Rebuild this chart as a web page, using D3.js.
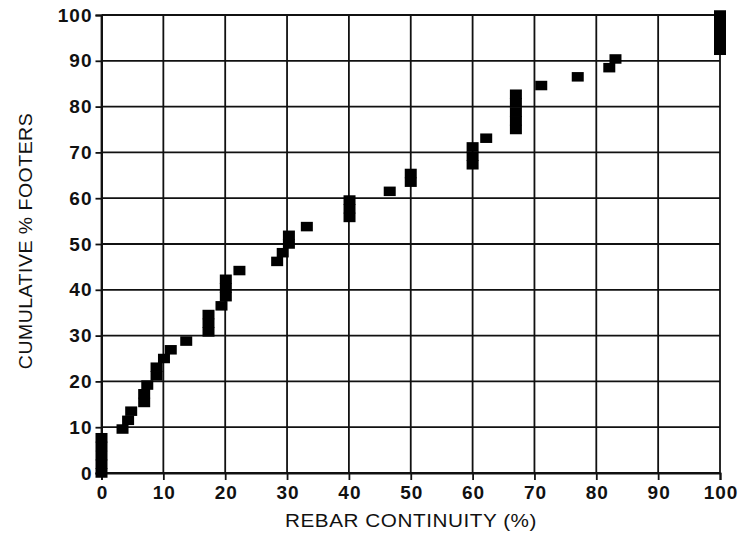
<!DOCTYPE html>
<html>
<head>
<meta charset="utf-8">
<script src="https://cdn.jsdelivr.net/npm/d3@7"></script>
<style>
  body { margin: 0; background: #fff; }
  svg { display: block; }
  .tick-label { font-family: "Liberation Sans", Arial, sans-serif; font-weight: bold; font-size: 19px; fill: #111; }
  .axis-title { font-family: "Liberation Sans", Arial, sans-serif; font-size: 19px; fill: #111; }
</style>
</head>
<body>
<div id="chart"></div>
<script>
// rebar continuity (%) for each footer
var rebarX = [0, 0, 0, 0, 0, 3.4, 4.3, 4.8, 6.9, 6.9,
  7.4, 8.9, 8.9, 10.1, 11.2, 13.7, 17.3, 17.3, 17.3, 19.4,
  20.1, 20.1, 20.1, 22.3, 28.4, 29.3, 30.3, 30.3, 33.2, 40.1,
  40.1, 40.1, 46.6, 50, 50, 60, 60, 60, 62.2, 67,
  67, 67, 67, 67, 71.1, 77, 82.1, 83.1, 100, 100,
  100, 100, 100];

// cumulative % of footers
var cumulativeY = [0, 1.9, 3.8, 5.8, 7.7, 9.6, 11.5, 13.5, 15.4, 17.3,
  19.2, 21.2, 23.1, 25, 26.9, 28.8, 30.8, 32.7, 34.6, 36.5,
  38.5, 40.4, 42.3, 44.2, 46.2, 48.1, 50, 51.9, 53.8, 55.8,
  57.7, 59.6, 61.5, 63.5, 65.4, 67.3, 69.2, 71.2, 73.1, 75,
  76.9, 78.8, 80.8, 82.7, 84.6, 86.5, 88.5, 90.4, 92.3, 94.2,
  96.2, 98.1, 100];

var xTicks = [0, 10, 20, 30, 40, 50, 60, 70, 80, 90, 100];
var yTicks = [0, 10, 20, 30, 40, 50, 60, 70, 80, 90, 100];

var svgWidth = 741;
var svgHeight = 540;

// plot box edges in pixels
var margin = { top: 15, right: 21, bottom: 67, left: 101.5 };
var width = svgWidth - margin.left - margin.right;
var height = svgHeight - margin.top - margin.bottom;

var svg = d3.select("#chart")
  .append("svg")
  .attr("width", svgWidth)
  .attr("height", svgHeight);

var chartGroup = svg.append("g")
  .attr("transform", `translate(${margin.left}, ${margin.top})`);

var xLinearScale = d3.scaleLinear().domain([0, 100]).range([0, width]);
var yLinearScale = d3.scaleLinear().domain([0, 100]).range([height, 0]);

// grid lines
chartGroup.append("g")
  .selectAll("line")
  .data(xTicks)
  .enter()
  .append("line")
  .attr("x1", d => xLinearScale(d))
  .attr("x2", d => xLinearScale(d))
  .attr("y1", 0)
  .attr("y2", height)
  .attr("stroke", "#111")
  .attr("stroke-width", 1.8);

chartGroup.append("g")
  .selectAll("line")
  .data(yTicks)
  .enter()
  .append("line")
  .attr("x1", 0)
  .attr("x2", width)
  .attr("y1", d => yLinearScale(d))
  .attr("y2", d => yLinearScale(d))
  .attr("stroke", "#111")
  .attr("stroke-width", 1.8);

// axes with short outside ticks
var bottomAxis = d3.axisBottom(xLinearScale).tickValues(xTicks).tickSize(7).tickPadding(6);
var leftAxis = d3.axisLeft(yLinearScale).tickValues(yTicks).tickSize(6).tickPadding(3);

var xAxis = chartGroup.append("g")
  .attr("transform", `translate(0, ${height})`)
  .call(bottomAxis);

var yAxis = chartGroup.append("g")
  .call(leftAxis);

[xAxis, yAxis].forEach(function(ax) {
  ax.select(".domain").attr("stroke", "#111").attr("stroke-width", 2);
  ax.selectAll(".tick line").attr("stroke", "#111").attr("stroke-width", 1.8);
  ax.selectAll(".tick text")
    .attr("class", "tick-label")
    .attr("font-family", null)
    .attr("font-size", null)
    .attr("fill", null)
    .style("letter-spacing", "1px");
});

xAxis.selectAll(".tick text").attr("dx", "0.5px");

// footer markers
chartGroup.append("g")
  .selectAll("rect")
  .data(rebarX.map((d, i) => ({ x: d, y: cumulativeY[i] })))
  .enter()
  .append("rect")
  .attr("x", d => xLinearScale(d.x) - 6)
  .attr("y", d => yLinearScale(d.y) - 4.75)
  .attr("width", 12)
  .attr("height", 9.5)
  .attr("fill", "#000");

// axis titles (slightly stretched, like the scanned lettering)
svg.append("text")
  .attr("class", "axis-title")
  .attr("transform", "translate(411, 527) scale(1.09, 1)")
  .attr("text-anchor", "middle")
  .style("letter-spacing", "0.5px")
  .text("REBAR CONTINUITY (%)");

svg.append("text")
  .attr("class", "axis-title")
  .attr("transform", "translate(32, 241) rotate(-90) scale(1.025, 1)")
  .attr("text-anchor", "middle")
  .style("letter-spacing", "0.5px")
  .text("CUMULATIVE % FOOTERS");
</script>
</body>
</html>
